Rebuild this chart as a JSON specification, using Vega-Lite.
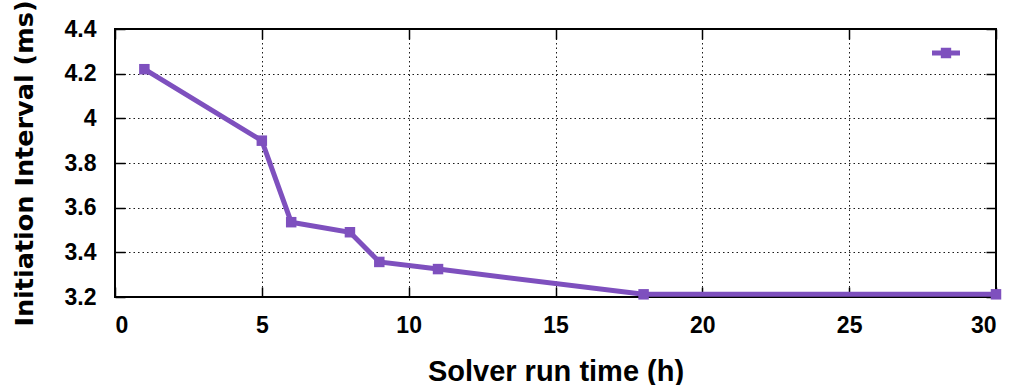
{
  "$schema": "https://vega.github.io/schema/vega-lite/v6.json",
  "autosize": "none",
  "width": 881,
  "height": 268,
  "padding": {"left": 115, "top": 29, "right": 18, "bottom": 88},
  "background": "white",
  "config": {
    "view": {"stroke": "black", "strokeWidth": 2},
    "font": "Liberation Sans",
    "axis": {
      "labelFont": "Liberation Sans",
      "labelFontWeight": "bold",
      "labelFontSize": 23,
      "labelColor": "black",
      "titleFont": "Liberation Sans",
      "titleFontWeight": "bold",
      "titleFontSize": 29,
      "titleColor": "black",
      "domain": false,
      "tickColor": "black",
      "tickWidth": 1.5,
      "tickSize": -10,
      "gridColor": "black",
      "gridDash": [1.5, 3],
      "gridWidth": 1,
      "gridOpacity": 0.9
    }
  },
  "data": {
    "values": [
      {"t": 1, "ii": 4.22},
      {"t": 5, "ii": 3.90},
      {"t": 6, "ii": 3.535},
      {"t": 8, "ii": 3.49},
      {"t": 9, "ii": 3.357},
      {"t": 11, "ii": 3.325},
      {"t": 18, "ii": 3.212},
      {"t": 30, "ii": 3.212}
    ]
  },
  "resolve": {"axis": {"x": "independent", "y": "independent"}},
  "layer": [
    {
      "mark": {"type": "line", "color": "#7E50BE", "strokeWidth": 5, "clip": false},
      "encoding": {
        "x": {
          "field": "t", "type": "quantitative",
          "scale": {"domain": [0, 30], "nice": false},
          "axis": {"values": [0, 5, 10, 15, 20, 25, 30], "title": "Solver run time (h)", "labelPadding": 27, "titlePadding": 20}
        },
        "y": {
          "field": "ii", "type": "quantitative",
          "scale": {"domain": [3.2, 4.4], "nice": false, "zero": false},
          "axis": {"values": [3.2, 3.4, 3.6, 3.8, 4.0, 4.2, 4.4], "labelExpr": "format(datum.value, '~g')", "title": "Initiation Interval (ms)", "titleFont": "DejaVu Sans", "titleFontSize": 25.5, "labelPadding": 29, "titlePadding": 27}
        }
      }
    },
    {
      "mark": {"type": "point", "shape": "square", "filled": true, "size": 110, "opacity": 1, "clip": false},
      "encoding": {
        "x": {"field": "t", "type": "quantitative", "axis": {"orient": "top", "labels": false, "grid": false, "title": null, "values": [0, 5, 10, 15, 20, 25, 30]}},
        "y": {"field": "ii", "type": "quantitative", "axis": {"orient": "right", "labels": false, "grid": false, "title": null, "values": [3.2, 3.4, 3.6, 3.8, 4.0, 4.2, 4.4]}},
        "color": {
          "datum": "series",
          "scale": {"range": ["#7E50BE"]},
          "legend": {
            "orient": "none",
            "legendX": 817,
            "legendY": 10,
            "title": null,
            "labelExpr": "''",
            "padding": 0,
            "symbolType": "M-1,-0.18H1V0.18H-1Z M-0.37,-0.37H0.37V0.37H-0.37Z",
            "symbolSize": 784,
            "symbolOpacity": 1,
            "symbolStrokeWidth": 0
          }
        }
      }
    }
  ]
}
